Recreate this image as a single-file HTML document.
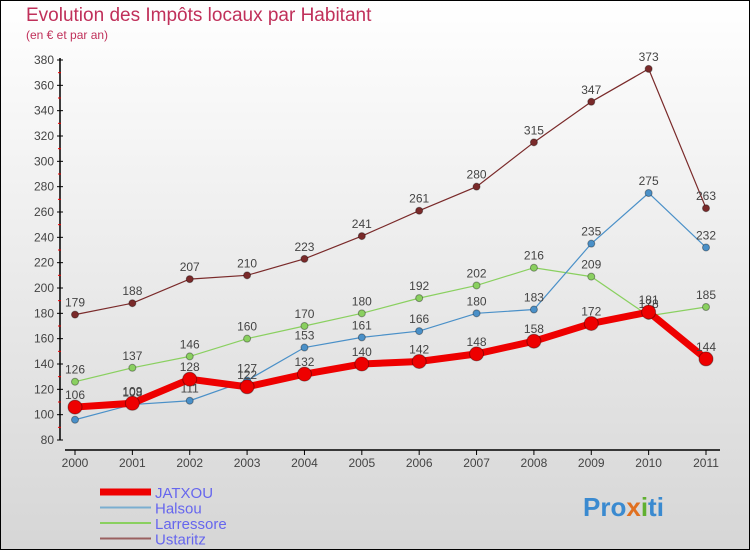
<!DOCTYPE html>
<html><head><meta charset="utf-8"><style>
body{margin:0;width:750px;height:550px;overflow:hidden;font-family:"Liberation Sans",sans-serif}
#wrap{position:absolute;left:0;top:0;width:748px;height:548px;border:1px solid #000;background:linear-gradient(#ffffff,#d6d6d6)}
</style></head><body>
<div id="wrap">
<svg id="chart" width="750" height="550" style="position:absolute;left:-1px;top:-1px">
<text x="26" y="21" font-size="19" fill="#c0305a">Evolution des Impôts locaux par Habitant</text>
<text x="26" y="39" font-size="12" fill="#c0305a">(en € et par an)</text>
<g id="axes"></g><g id="series"></g><g id="legend"></g>
<text x="583" y="516" font-size="26" font-weight="bold" fill="#3a8ad0">Pro<tspan fill="#e07020">x</tspan><tspan fill="#60b030">i</tspan>ti</text>
</svg>
</div>
<script>
const years=[2000,2001,2002,2003,2004,2005,2006,2007,2008,2009,2010,2011];
const jatxou=[106,109,128,122,132,140,142,148,158,172,181,144];
const halsou=[96,108,111,127,153,161,166,180,183,235,275,232];
const larressore=[126,137,146,160,170,180,192,202,216,209,178,185];
const ustaritz=[179,188,207,210,223,241,261,280,315,347,373,263];
const yTicks=[80,100,120,140,160,180,200,220,240,260,280,300,320,340,360,380];
const NS="http://www.w3.org/2000/svg";
const x=i=>75+i*(706-75)/11;
const y=v=>440-(v-80)*(380/300);
function mk(t,a,p){const e=document.createElementNS(NS,t);for(const k in a)e.setAttribute(k,a[k]);p.appendChild(e);return e;}
const ax=document.getElementById('axes');
let e=mk('line',{x1:60,y1:58,x2:60,y2:440,stroke:'#000','stroke-width':1.5},ax);


e=mk('line',{x1:65,y1:450,x2:720,y2:450,stroke:'#000','stroke-width':1.5},ax);


yTicks.forEach(v=>{
 mk('line',{x1:57,y1:y(v),x2:63,y2:y(v),stroke:'#000'},ax);
 if(v<380) mk('line',{x1:58,y1:y(v+10),x2:61,y2:y(v+10),stroke:'#e00'},ax);
 const t=mk('text',{x:54,y:y(v)+4,'font-size':12,fill:'#444','text-anchor':'end'},ax);
 t.textContent=v;
 
 
});
years.forEach((yr,i)=>{
 mk('line',{x1:x(i),y1:450,x2:x(i),y2:455,stroke:'#000'},ax);
 const t=mk('text',{x:x(i),y:467,'font-size':12,fill:'#444','text-anchor':'middle'},ax);
 t.textContent=yr;
 
 
});
const sg=document.getElementById('series');
function series(data,color,w,r,name){
 const g=mk('g',{},sg);
 
 
 const l=mk('polyline',{points:data.map((v,i)=>x(i)+','+y(v)).join(' '),fill:'none',stroke:color,'stroke-width':w},g);
 
 
 data.forEach((v,i)=>{
  const c=mk('circle',{cx:x(i),cy:y(v),r:r,fill:color,stroke:'rgba(0,0,0,0.35)','stroke-width':1},g);
  
  
  const t=mk('text',{x:x(i),y:y(v)-8,'font-size':12,fill:'#444','text-anchor':'middle'},g);
  t.textContent=v;
  
  
 });
}
series(ustaritz,'#7a2a2a',1.2,3.5,'ustaritz');
series(larressore,'#8ad060',1.2,3.5,'larressore');
series(halsou,'#4a90c8',1.2,3.5,'halsou');
series(jatxou,'#ee0000',7,7,'jatxou');
const lg=document.getElementById('legend');
const leg=[['JATXOU','#ee0000',7],['Halsou','#7aaed0',2],['Larressore','#8ad060',2],['Ustaritz','#9a6060',2]];
leg.forEach((d,i)=>{
 const yy=492+i*15.5;
 const l=mk('line',{x1:100,y1:yy,x2:151,y2:yy,stroke:d[1],'stroke-width':d[2]},lg);
 
 
 const t=mk('text',{x:155,y:yy+6,'font-size':15,fill:'#6666ee'},lg);
 t.textContent=d[0];
 
 
});
</script>
</body></html>
